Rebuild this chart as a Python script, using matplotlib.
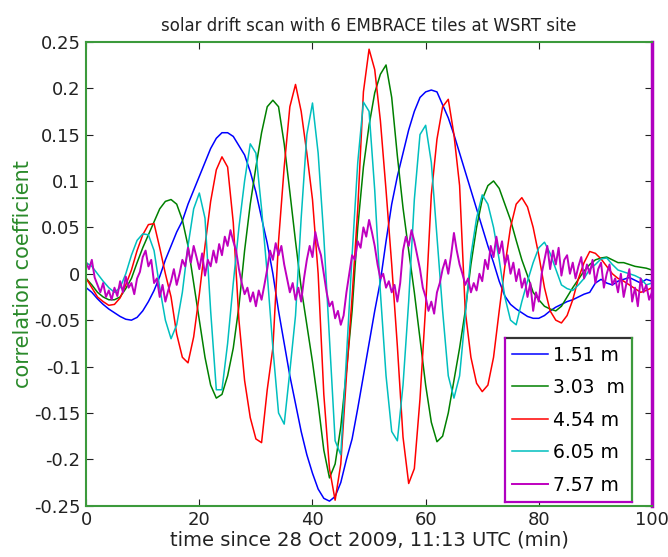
import numpy as np
import matplotlib
matplotlib.use("Agg")
import matplotlib.pyplot as plt
from matplotlib.lines import Line2D

plt.rcParams['font.family'] = ['DejaVu Sans']

# time axis in minutes (1-minute sampling for the tile pairs, 0.5 for the longest baseline)
t = np.arange(0, 101)
t_half = np.arange(0, 100.5, 0.5)

baselines = ["1.51 m", "3.03  m", "4.54 m", "6.05 m", "7.57 m"]

corr_151 = [
    -0.015, -0.02, -0.027, -0.033, -0.038, -0.042, -0.046, -0.049, -0.05, -0.047,
    -0.04, -0.03, -0.018, -0.003, 0.015, 0.03, 0.045, 0.057, 0.075, 0.09,
    0.105, 0.12, 0.135, 0.146, 0.152, 0.152, 0.148, 0.138, 0.128, 0.11,
    0.088, 0.06, 0.033, 0.0, -0.04, -0.075, -0.11, -0.14, -0.17, -0.195,
    -0.215, -0.232, -0.242, -0.245, -0.24, -0.225, -0.2, -0.178, -0.145, -0.11,
    -0.075, -0.04, -0.008, 0.035, 0.075, 0.105, 0.13, 0.155, 0.175, 0.19,
    0.196, 0.198, 0.196, 0.182, 0.168, 0.15, 0.13, 0.11, 0.09, 0.07,
    0.05, 0.03, 0.012, -0.008, -0.024, -0.033, -0.038, -0.042, -0.046, -0.048,
    -0.048, -0.045, -0.04, -0.036, -0.033, -0.03, -0.028, -0.025, -0.022, -0.02,
    -0.01, -0.006, -0.01, -0.012, -0.008, -0.006, -0.004, -0.007, -0.01, -0.006,
    -0.008,
]

corr_303 = [
    -0.005, -0.012, -0.02, -0.025, -0.028, -0.028, -0.025, -0.016, -0.005, 0.012,
    0.028, 0.042, 0.056, 0.07, 0.078, 0.08, 0.075, 0.058, 0.03, -0.01,
    -0.05, -0.09, -0.12, -0.134, -0.13, -0.11, -0.08, -0.035, 0.025, 0.075,
    0.115, 0.152, 0.18, 0.187, 0.18, 0.14, 0.088, 0.035, -0.015, -0.055,
    -0.095, -0.14, -0.19, -0.22, -0.205, -0.165, -0.105, -0.04, 0.05, 0.115,
    0.16, 0.195, 0.215, 0.225, 0.19, 0.127, 0.071, 0.025, -0.02, -0.07,
    -0.12, -0.16, -0.181, -0.175, -0.15, -0.115, -0.08, -0.04, 0.01, 0.05,
    0.08, 0.095, 0.1, 0.092, 0.075, 0.058, 0.036, 0.015, -0.002, -0.02,
    -0.028, -0.035, -0.038, -0.04, -0.035, -0.025, -0.015, -0.006, 0.003, 0.01,
    0.015, 0.017, 0.018, 0.015, 0.012, 0.012, 0.01, 0.008, 0.007, 0.006,
    0.004,
]

corr_454 = [
    -0.005, -0.015, -0.025, -0.03, -0.034, -0.033, -0.026, -0.012, 0.004, 0.025,
    0.042, 0.053, 0.054, 0.028, 0.0, -0.025, -0.065, -0.09, -0.096, -0.068,
    -0.022, 0.03, 0.078, 0.112, 0.126, 0.115, 0.055, -0.05, -0.115, -0.155,
    -0.178, -0.182, -0.125, -0.08, 0.035, 0.115, 0.18, 0.204, 0.175, 0.13,
    0.08, 0.0, -0.13, -0.21, -0.244, -0.205, -0.11, -0.025, 0.07, 0.196,
    0.242, 0.22, 0.165, 0.09, 0.01, -0.078, -0.176, -0.226, -0.21, -0.135,
    -0.035, 0.085, 0.145, 0.18, 0.188, 0.15, 0.095, -0.04, -0.09, -0.118,
    -0.127, -0.12, -0.09, -0.04, 0.008, 0.05, 0.075, 0.082, 0.072, 0.05,
    0.02, -0.015, -0.04, -0.05, -0.053, -0.045, -0.028, -0.005, 0.012, 0.024,
    0.022, 0.016, 0.008, 0.0, -0.005, -0.008, -0.012, -0.016, -0.02, -0.018,
    -0.015,
]

corr_605 = [
    0.012, 0.008, 0.0, -0.008, -0.015, -0.02, -0.015, 0.0, 0.02, 0.036,
    0.043, 0.042, 0.025, -0.015, -0.05, -0.07, -0.055, -0.02, 0.03, 0.07,
    0.087, 0.06, -0.04, -0.125, -0.125, -0.075, -0.01, 0.05, 0.1, 0.14,
    0.13, 0.07, 0.0, -0.08, -0.15, -0.162, -0.105, -0.045, 0.06, 0.15,
    0.184, 0.13, 0.04, -0.07, -0.18, -0.195, -0.09, 0.02, 0.12, 0.185,
    0.175, 0.09, -0.02, -0.11, -0.17, -0.18, -0.12, -0.03, 0.08, 0.15,
    0.16, 0.12, 0.04, -0.04, -0.11, -0.134, -0.11, -0.045, 0.02, 0.06,
    0.085, 0.075, 0.05, 0.015, -0.025, -0.05, -0.055, -0.03, -0.008, 0.012,
    0.028, 0.034, 0.022, 0.005, -0.012, -0.016, -0.018, -0.012, -0.005, 0.005,
    0.01, 0.016, 0.017, 0.01, 0.004, 0.002, 0.0, -0.002, -0.005, -0.012,
    -0.01,
]

corr_757 = [
    0.012, 0.005, 0.015, -0.004, -0.012, -0.02, -0.01, -0.025, -0.018, -0.028,
    -0.015, -0.024, -0.008, -0.02, -0.003, -0.015, -0.01, -0.022, -0.005, 0.002,
    0.018, 0.025, 0.008, 0.015, -0.01, -0.005, -0.025, -0.012, -0.03, -0.018,
    -0.008, 0.005, -0.012, 0.0, 0.015, 0.008, 0.028, 0.012, 0.03, 0.018,
    0.005, 0.022, -0.002, 0.015, 0.008, 0.025, 0.012, 0.032, 0.02, 0.04,
    0.03, 0.047, 0.035, 0.025, 0.005, -0.01, -0.022, -0.015, -0.03, -0.02,
    -0.035, -0.018, -0.028, -0.012, 0.005, 0.025, 0.015, 0.033, 0.02, 0.03,
    0.01, -0.005, -0.02, -0.01, -0.028, -0.015, -0.03, -0.005, 0.015, 0.03,
    0.018, 0.045, 0.03, 0.02, 0.0, -0.02, -0.035, -0.03, -0.048, -0.04,
    -0.055, -0.045, -0.02, 0.0, 0.02, 0.015, 0.035, 0.028, 0.05, 0.04,
    0.058, 0.045, 0.03, 0.01, -0.005, 0.0, -0.015, -0.008, -0.02, -0.012,
    -0.03, -0.01, 0.025, 0.04, 0.03, 0.047, 0.035, 0.02, 0.005, -0.015,
    -0.025, -0.04, -0.03, -0.043, -0.02, -0.01, 0.005, 0.015, 0.0, 0.02,
    0.044, 0.025, 0.01, 0.0, -0.012, -0.005, -0.02, -0.01, -0.018, 0.0,
    -0.008, 0.015, 0.005, 0.03, 0.018, 0.04, 0.022, 0.035, 0.01, 0.02,
    0.0, 0.012, -0.008, 0.005, -0.015, -0.005, -0.025, -0.01, -0.04, -0.02,
    -0.03, 0.0, 0.015, 0.03, 0.005, 0.025, 0.01, 0.028, -0.002, 0.015,
    0.02, 0.0, 0.012, -0.005, 0.008, 0.018, -0.005, 0.01, 0.0, 0.015,
    -0.01, 0.005, 0.012, -0.015, 0.0, 0.01, -0.012, -0.005, -0.02, 0.0,
    -0.025, -0.01, 0.005, -0.03, -0.015, -0.035, -0.005, -0.02, -0.012, -0.028,
    -0.02,
]

colors = ["#0000ff", "#008000", "#ff0000", "#00bfbf", "#bf00bf"]
widths = [1.1, 1.1, 1.1, 1.1, 1.4]

fig = plt.figure(figsize=(6.68, 5.57), dpi=100)
ax = fig.add_axes([0.129, 0.092, 0.847, 0.833])

series = [(t, corr_151), (t, corr_303), (t, corr_454), (t, corr_605), (t_half, corr_757)]
for (x, y), c, w, lab in zip(series, colors, widths, baselines):
    ax.plot(x, y, color=c, lw=w, label=lab)

ax.set_xlim(0, 100)
ax.set_ylim(-0.25, 0.25)
ax.set_xticks([0, 20, 40, 60, 80, 100])
ax.set_yticks([-0.25, -0.2, -0.15, -0.1, -0.05, 0, 0.05, 0.1, 0.15, 0.2, 0.25])
ax.set_yticklabels(["-0.25", "-0.2", "-0.15", "-0.1", "-0.05", "0",
                    "0.05", "0.1", "0.15", "0.2", "0.25"])
ax.tick_params(direction="in", top=True, right=True, length=5,
               labelsize=13, colors="#222222", pad=4)

for side in ["left", "top", "bottom"]:
    ax.spines[side].set_color("#3c9a3c")
    ax.spines[side].set_linewidth(1.5)
ax.spines["right"].set_color("#b000c0")
ax.spines["right"].set_linewidth(2.5)

ax.set_title("solar drift scan with 6 EMBRACE tiles at WSRT site",
             fontsize=12, color="#222222", pad=8)
ax.set_xlabel("time since 28 Oct 2009, 11:13 UTC (min)", fontsize=14,
              color="#222222", labelpad=1)
ax.set_ylabel("correlation coefficient", fontsize=15, color="#2a8a2a",
              labelpad=1)

leg = ax.legend(loc="lower right", bbox_to_anchor=(0.965, 0.008),
                fontsize=13.5, handlelength=1.9, handletextpad=0.25,
                labelspacing=0.72, borderpad=0.4, borderaxespad=0,
                fancybox=False, framealpha=1)
leg.get_frame().set_linewidth(0)

# legend box edges, each side in its own colour
fig.canvas.draw()
bb = leg.get_window_extent().transformed(fig.transFigure.inverted())
x0, y0, x1, y1 = bb.x0, bb.y0, bb.x1, bb.y1
edges = [([x0, x1], [y1, y1], "#333333"),
         ([x1, x1], [y0, y1], "#3c9a3c"),
         ([x0, x1], [y0, y0], "#b000c0"),
         ([x0, x0], [y0, y1], "#b000c0")]
for xs, ys, c in edges:
    fig.add_artist(Line2D(xs, ys, color=c, lw=1.6, transform=fig.transFigure))

fig.savefig("out.png", dpi=100)
